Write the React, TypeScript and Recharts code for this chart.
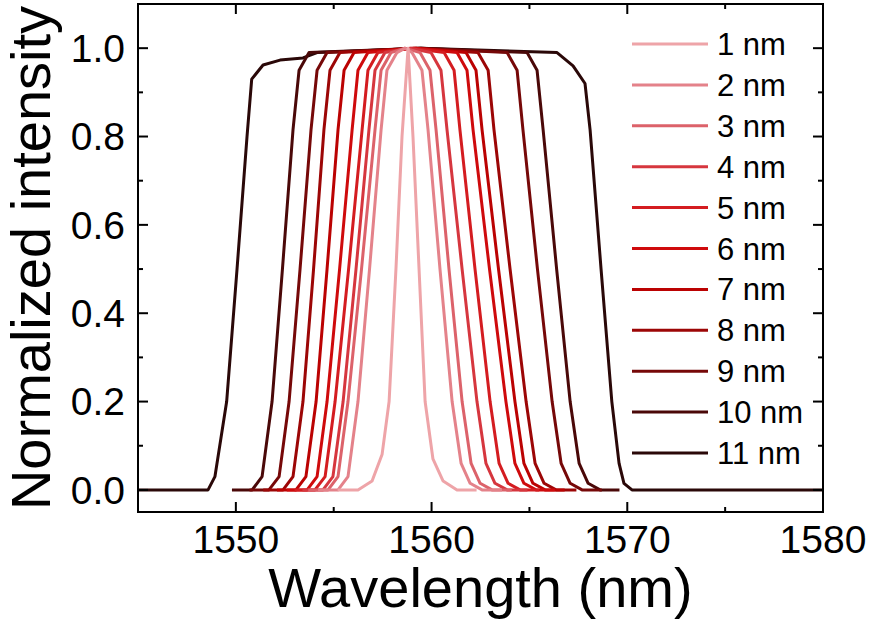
import React from 'react';
import { LineChart, Line, XAxis, YAxis, Legend } from 'recharts';

const FONT = '"Liberation Sans", Arial, Helvetica, sans-serif';

// [wavelength (nm), normalized intensity]
const curve1nm: [number, number][] = [
  [1555.2, 0], [1556.24, 0], [1556.96, 0.02], [1557.47, 0.08], [1557.83, 0.2], [1558.18, 0.5],
  [1558.49, 0.8], [1558.8, 1.0], [1559.05, 0.8], [1559.36, 0.5], [1559.67, 0.2], [1560.07, 0.07],
  [1560.59, 0.02], [1561.3, 0], [1562.3, 0],
];
const curve2nm: [number, number][] = [
  [1554.2, 0], [1555.22, 0], [1555.73, 0.03], [1556.24, 0.2], [1556.83, 0.5], [1557.42, 0.815],
  [1557.72, 0.95], [1558.23, 0.99], [1558.64, 1.0], [1559.0, 0.99], [1559.51, 0.95], [1559.82, 0.815],
  [1560.43, 0.5], [1561.05, 0.2], [1561.51, 0.06], [1561.97, 0.015], [1562.58, 0], [1563.6, 0],
];
const curve3nm: [number, number][] = [
  [1553.7, 0], [1554.71, 0], [1555.22, 0.03], [1555.73, 0.2], [1556.42, 0.5], [1557.11, 0.815],
  [1557.42, 0.95], [1557.93, 0.99], [1558.64, 1.0], [1559.41, 0.99], [1559.92, 0.95], [1560.23, 0.815],
  [1560.89, 0.5], [1561.56, 0.2], [1562.02, 0.06], [1562.48, 0.015], [1563.09, 0], [1564.1, 0],
];
const curve4nm: [number, number][] = [
  [1553.4, 0], [1554.45, 0], [1554.96, 0.03], [1555.48, 0.2], [1556.14, 0.5], [1556.8, 0.815],
  [1557.11, 0.95], [1557.62, 0.99], [1558.9, 1.0], [1559.97, 0.99], [1560.48, 0.95], [1560.79, 0.815],
  [1561.56, 0.5], [1562.32, 0.2], [1562.78, 0.06], [1563.24, 0.015], [1563.86, 0], [1564.9, 0],
];
const curve5nm: [number, number][] = [
  [1553.0, 0], [1554.04, 0], [1554.56, 0.03], [1555.07, 0.2], [1555.76, 0.5], [1556.45, 0.815],
  [1556.75, 0.95], [1557.26, 0.99], [1559.0, 1.0], [1560.64, 0.99], [1561.15, 0.95], [1561.45, 0.815],
  [1562.22, 0.5], [1562.99, 0.2], [1563.45, 0.06], [1563.91, 0.015], [1564.52, 0], [1565.5, 0],
];
const curve6nm: [number, number][] = [
  [1552.6, 0], [1553.64, 0], [1554.15, 0.03], [1554.66, 0.2], [1555.3, 0.5], [1555.94, 0.815],
  [1556.24, 0.95], [1556.75, 0.99], [1559.15, 1.0], [1561.3, 0.99], [1561.81, 0.95], [1562.12, 0.815],
  [1562.96, 0.5], [1563.8, 0.2], [1564.26, 0.06], [1564.72, 0.015], [1565.34, 0], [1566.3, 0],
];
const curve7nm: [number, number][] = [
  [1552.1, 0], [1553.07, 0], [1553.58, 0.03], [1554.1, 0.2], [1554.66, 0.5], [1555.22, 0.815],
  [1555.53, 0.95], [1556.04, 0.99], [1559.21, 1.0], [1561.76, 0.99], [1562.27, 0.95], [1562.58, 0.815],
  [1563.42, 0.5], [1564.26, 0.2], [1564.72, 0.06], [1565.18, 0.015], [1565.8, 0], [1566.8, 0],
];
const curve8nm: [number, number][] = [
  [1551.4, 0], [1552.41, 0], [1552.92, 0.03], [1553.43, 0.2], [1553.97, 0.5], [1554.5, 0.815],
  [1554.81, 0.95], [1555.32, 0.99], [1559.1, 1.0], [1562.37, 0.99], [1562.89, 0.95], [1563.19, 0.815],
  [1564.01, 0.5], [1564.83, 0.2], [1565.29, 0.06], [1565.75, 0.015], [1566.36, 0], [1567.4, 0],
];
const curve9nm: [number, number][] = [
  [1550.7, 0], [1551.69, 0], [1552.21, 0.03], [1552.72, 0.2], [1553.28, 0.5], [1553.84, 0.815],
  [1554.15, 0.95], [1554.66, 0.99], [1559.41, 1.0], [1563.86, 0.99], [1564.37, 0.95], [1564.67, 0.815],
  [1565.41, 0.5], [1566.16, 0.2], [1566.62, 0.06], [1567.08, 0.015], [1567.69, 0], [1568.7, 0],
];
const curve10nm: [number, number][] = [
  [1549.8, 0], [1550.83, 0], [1551.34, 0.03], [1551.85, 0.2], [1552.38, 0.5], [1552.92, 0.815],
  [1553.23, 0.95], [1553.74, 0.99], [1559.46, 1.0], [1564.88, 0.99], [1565.39, 0.95], [1565.7, 0.815],
  [1566.39, 0.5], [1567.08, 0.2], [1567.54, 0.06], [1568.0, 0.015], [1568.61, 0], [1569.6, 0],
];
const curve11nm: [number, number][] = [
  [1545, 0], [1548.58, 0], [1548.93, 0.03], [1549.53, 0.2], [1550.06, 0.5], [1550.57, 0.8],
  [1550.81, 0.93], [1551.39, 0.962], [1552.26, 0.973], [1553.43, 0.978], [1554.15, 0.99], [1555.17, 0.992],
  [1559.46, 1.0], [1566.41, 0.99], [1567.23, 0.96], [1567.84, 0.92], [1568.1, 0.815], [1568.66, 0.5],
  [1569.21, 0.2], [1569.58, 0.06], [1569.83, 0.015], [1570.24, 0], [1580, 0],
];

const SERIES = [
  { name: '1 nm', color: '#eea4a8', points: curve1nm },
  { name: '2 nm', color: '#e4828a', points: curve2nm },
  { name: '3 nm', color: '#dc626a', points: curve3nm },
  { name: '4 nm', color: '#d6363e', points: curve4nm },
  { name: '5 nm', color: '#d41c20', points: curve5nm },
  { name: '6 nm', color: '#cf0a0c', points: curve6nm },
  { name: '7 nm', color: '#bb0202', points: curve7nm },
  { name: '8 nm', color: '#9c0606', points: curve8nm },
  { name: '9 nm', color: '#760808', points: curve9nm },
  { name: '10 nm', color: '#4a0808', points: curve10nm },
  { name: '11 nm', color: '#2a0808', points: curve11nm },
];

const X_DOMAIN: [number, number] = [1545, 1580];
const Y_DOMAIN: [number, number] = [-0.05, 1.1];
const X_TICKS = [1550, 1555, 1560, 1565, 1570, 1575, 1580];
const Y_TICKS = [0, 0.1, 0.2, 0.3, 0.4, 0.5, 0.6, 0.7, 0.8, 0.9, 1.0];

// chart box (the plot area sits at left 138, top 4, right 823, bottom 512)
const W = 874;
const H = 629;
const PLOT = { left: 138, top: 4, right: 823, bottom: 512 };

const isMajorX = (v: number) => v % 10 === 0;
const isMajorY = (v: number) => Math.round(v * 10) % 2 === 0;

const BottomTick = (props: any) => {
  const { x, y, payload } = props;
  const major = isMajorX(payload.value);
  return (
    <g>
      <line x1={x} x2={x} y1={y} y2={y - (major ? 10 : 5)} stroke="#000" strokeWidth={2} />
      {major && (
        <text x={x} y={y + 13} dy="0.71em" textAnchor="middle" fontSize={39} fontFamily={FONT} fill="#000">
          {payload.value}
        </text>
      )}
    </g>
  );
};

const LeftTick = (props: any) => {
  const { x, y, payload } = props;
  const major = isMajorY(payload.value);
  return (
    <g>
      <line x1={x} x2={x + (major ? 10 : 5)} y1={y} y2={y} stroke="#000" strokeWidth={2} />
      {major && (
        <text x={x - 13} y={y} dy="0.355em" textAnchor="end" fontSize={39} fontFamily={FONT} fill="#000">
          {payload.value.toFixed(1)}
        </text>
      )}
    </g>
  );
};

const TopTick = (props: any) => {
  const { x, y, payload } = props;
  const major = isMajorX(payload.value);
  return <line x1={x} x2={x} y1={y} y2={y + (major ? 10 : 5)} stroke="#000" strokeWidth={2} />;
};

const RightTick = (props: any) => {
  const { x, y, payload } = props;
  const major = isMajorY(payload.value);
  return <line x1={x} x2={x - (major ? 10 : 5)} y1={y} y2={y} stroke="#000" strokeWidth={2} />;
};

const renderLegend = (props: any) => {
  const items = [...(props.payload || [])]
    .filter((it) => /nm$/.test(String(it.value)))
    .sort((a, b) => parseInt(a.value) - parseInt(b.value));
  return (
    <svg width={200} height={460} style={{ display: 'block' }}>
      {items.map((it, i) => {
        const cy = 24 + i * 40.9;
        return (
          <g key={it.value}>
            <line x1={0} x2={76} y1={cy} y2={cy} stroke={it.color} strokeWidth={3} />
            <text x={85} y={cy} dy="0.355em" fontSize={31} fontFamily={FONT} fill="#000">
              {it.value}
            </text>
          </g>
        );
      })}
    </svg>
  );
};

const axisLine = { stroke: '#000', strokeWidth: 2 };
const toRows = (pts: [number, number][]) => pts.map(([x, y]) => ({ x, y }));
const layer: React.CSSProperties = { position: 'absolute', left: 0, top: 0, pointerEvents: 'none' };

export default function App() {
  return (
    <div style={{ position: 'absolute', left: 0, top: 0, width: W, height: H, background: '#fff' }}>
      <div style={layer}>
        <LineChart width={W} height={H} margin={{ top: PLOT.top, right: W - PLOT.right, bottom: 0, left: 0 }}>
          <XAxis
            dataKey="x"
            type="number"
            domain={X_DOMAIN}
            ticks={X_TICKS}
            interval={0}
            height={H - PLOT.bottom}
            axisLine={axisLine}
            tickLine={false}
            tickSize={0}
            tickMargin={0}
            tick={<BottomTick />}
            label={{
              value: 'Wavelength (nm)',
              position: 'insideBottom',
              offset: 22,
              style: { fontSize: 56, fontFamily: FONT, fill: '#000' },
            }}
          />
          <YAxis
            type="number"
            domain={Y_DOMAIN}
            ticks={Y_TICKS}
            interval={0}
            width={PLOT.left}
            axisLine={axisLine}
            tickLine={false}
            tickSize={0}
            tickMargin={0}
            tick={<LeftTick />}
            label={{
              value: 'Normalized intensity',
              position: 'insideLeft',
              offset: 30,
              angle: -90,
              style: { fontSize: 56, fontFamily: FONT, fill: '#000', textAnchor: 'middle' },
            }}
          />
          {SERIES.slice()
            .reverse()
            .map((s) => (
              <Line
                key={s.name}
                name={s.name}
                data={toRows(s.points)}
                dataKey="y"
                type="linear"
                stroke={s.color}
                strokeWidth={3}
                strokeLinejoin="round"
                dot={false}
                activeDot={false}
                isAnimationActive={false}
              />
            ))}
          <Legend
            layout="vertical"
            align="center"
            verticalAlign="middle"
            wrapperStyle={{ position: 'absolute', left: 632, top: 20, width: 200, height: 460 }}
            content={renderLegend}
          />
        </LineChart>
      </div>

      {/* mirrored top / right axes with inward ticks, as a second chart with the same plot box */}
      <div style={layer}>
        <LineChart
          width={W}
          height={H}
          margin={{ top: PLOT.top - 1, right: W - PLOT.right - 1, bottom: H - PLOT.bottom, left: PLOT.left }}
        >
          <XAxis
            orientation="top"
            dataKey="x"
            type="number"
            domain={X_DOMAIN}
            ticks={X_TICKS}
            interval={0}
            height={1}
            axisLine={axisLine}
            tickLine={false}
            tickSize={0}
            tickMargin={0}
            tick={<TopTick />}
          />
          <YAxis
            orientation="right"
            type="number"
            domain={Y_DOMAIN}
            ticks={Y_TICKS}
            interval={0}
            width={1}
            axisLine={axisLine}
            tickLine={false}
            tickSize={0}
            tickMargin={0}
            tick={<RightTick />}
          />
          <Line
            name="mirror"
            data={toRows(curve11nm)}
            dataKey="y"
            stroke="none"
            dot={false}
            activeDot={false}
            legendType="none"
            isAnimationActive={false}
          />
        </LineChart>
      </div>

      {/* plot frame */}
      <svg width={W} height={H} style={layer}>
        <rect
          x={PLOT.left}
          y={PLOT.top}
          width={PLOT.right - PLOT.left}
          height={PLOT.bottom - PLOT.top}
          fill="none"
          stroke="#000"
          strokeWidth={2}
        />
      </svg>
    </div>
  );
}
